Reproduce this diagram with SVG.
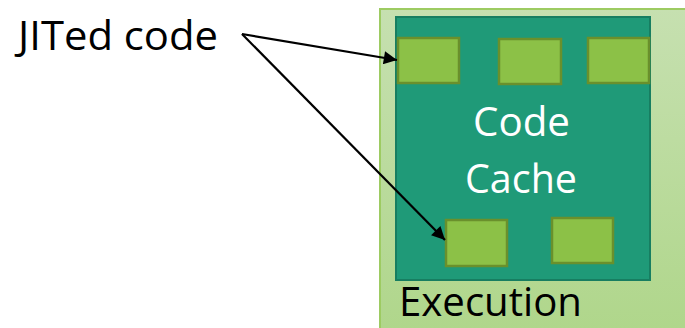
<svg xmlns="http://www.w3.org/2000/svg" width="685" height="328" viewBox="0 0 685 328">
<style>
.lbl{font-family:"Open Sans","Liberation Sans",sans-serif;font-size:41px;}
.blk{fill:#8CC147;stroke:#6A902C;stroke-width:2.5;}
.conn{stroke:#000;stroke-width:2.2;fill:none;}
</style>
<defs>
<linearGradient id="g" x1="0" y1="0" x2="0" y2="1">
<stop offset="0" stop-color="#C6E0B0"/>
<stop offset="1" stop-color="#AFD68A"/>
</linearGradient>
<marker id="ah" viewBox="0 0 10 10" refX="10" refY="5" markerWidth="7.5" markerHeight="6" markerUnits="strokeWidth" orient="auto">
<path d="M0,0 L10,5 L0,10 Z" fill="#000"/>
</marker>
</defs>
<rect width="685" height="328" fill="#fff"/>
<g id="execution">
<rect x="380" y="9" width="320" height="330" fill="url(#g)" stroke="#9DCB62" stroke-width="2"/>
<text class="lbl" x="399" y="316" fill="#000" font-size="38" textLength="183" lengthAdjust="spacingAndGlyphs">Execution</text>
</g>
<g id="code-cache">
<rect x="396" y="17" width="254" height="263" fill="#1F9A78" stroke="#177E61" stroke-width="2"/>
<text class="lbl" x="473" y="136" fill="#fff" textLength="97" lengthAdjust="spacingAndGlyphs">Code</text>
<text class="lbl" x="465" y="193" fill="#fff" textLength="112" lengthAdjust="spacingAndGlyphs">Cache</text>
</g>
<g id="block1"><rect class="blk" x="398" y="38" width="61" height="45"/></g>
<g id="block2"><rect class="blk" x="499" y="39" width="62" height="45"/></g>
<g id="block3"><rect class="blk" x="588" y="38" width="61" height="45"/></g>
<g id="block4"><rect class="blk" x="446" y="220" width="61" height="46"/></g>
<g id="block5"><rect class="blk" x="552" y="218" width="61" height="45"/></g>
<g id="jited-code">
<text class="lbl" x="18" y="50" fill="#000" textLength="200" lengthAdjust="spacingAndGlyphs">JITed code</text>
</g>
<g id="connectors">
<line class="conn" x1="242" y1="34" x2="397" y2="60" marker-end="url(#ah)"/>
<line class="conn" x1="242" y1="34" x2="445" y2="240" marker-end="url(#ah)"/>
</g>
</svg>
